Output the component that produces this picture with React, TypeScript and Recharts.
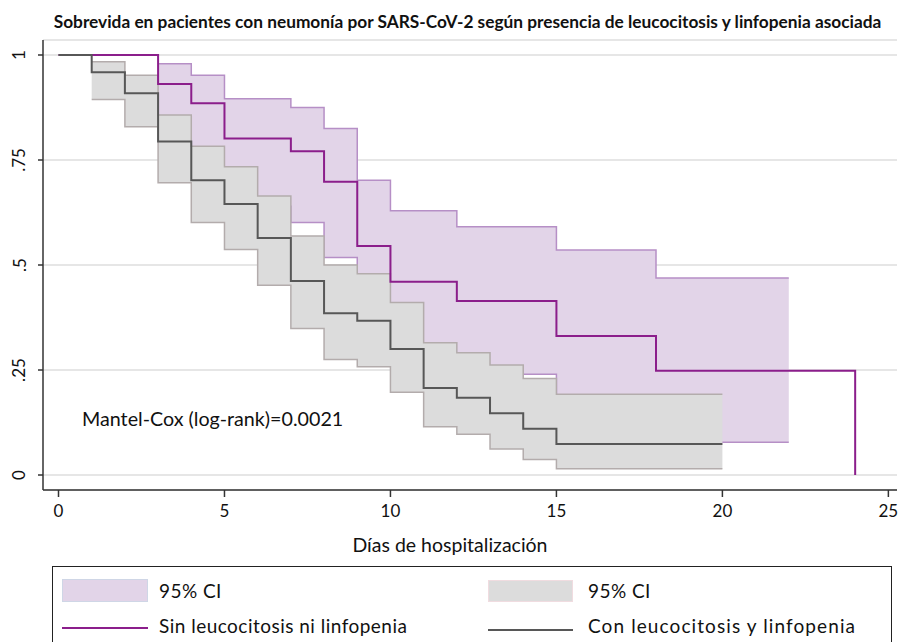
import { ComposedChart, Line, Area, XAxis, YAxis, CartesianGrid } from 'recharts';

// Sin leucocitosis ni linfopenia
const sinTimes = [0, 3, 4, 5, 7, 8, 9, 10, 12, 15, 18, 24];
const sinSurv = [1, 0.931, 0.885, 0.801, 0.771, 0.698, 0.545, 0.46, 0.414, 0.331, 0.248, 0];
const sinCiTimes = [3, 4, 5, 7, 8, 9, 10, 12, 15, 18, 22];
const sinCiLow = [0.78, 0.72, 0.64, 0.601, 0.518, 0.37, 0.29, 0.24, 0.16, 0.078, 0.078];
const sinCiHigh = [0.979, 0.952, 0.896, 0.875, 0.825, 0.702, 0.629, 0.591, 0.536, 0.469, 0.469];

// Con leucocitosis y linfopenia
const conTimes = [0, 1, 2, 3, 4, 5, 6, 7, 8, 9, 10, 11, 12, 13, 14, 15, 20];
const conSurv = [1, 0.959, 0.909, 0.794, 0.702, 0.645, 0.564, 0.462, 0.385, 0.367, 0.3, 0.207, 0.184, 0.147, 0.11, 0.074, 0.074];
const conCiTimes = [1, 2, 3, 4, 5, 6, 7, 8, 9, 10, 11, 12, 13, 14, 15, 20];
const conCiLow = [0.894, 0.829, 0.696, 0.601, 0.537, 0.452, 0.349, 0.275, 0.258, 0.197, 0.115, 0.097, 0.062, 0.037, 0.015, 0.015];
const conCiHigh = [0.984, 0.952, 0.857, 0.783, 0.734, 0.664, 0.569, 0.5, 0.479, 0.411, 0.315, 0.291, 0.262, 0.23, 0.192, 0.192];

const xTicks = [0, 5, 10, 15, 20, 25];
const yTicks = [0, 0.25, 0.5, 0.75, 1];

const PURPLE = '#8b1e8b';
const PURPLE_FILL = '#e2d4e8';
const PURPLE_EDGE = '#b68fc6';
const GRAY = '#575757';
const GRAY_FILL = '#dcdcdc';
const GRAY_EDGE = '#b3acac';
const FONT = 'Lato, sans-serif';

const sinLine = sinTimes.map((t, i) => ({ t, s: sinSurv[i] }));
const sinBand = sinCiTimes.map((t, i) => ({ t, ci: [sinCiLow[i], sinCiHigh[i]] }));
const conLine = conTimes.map((t, i) => ({ t, s: conSurv[i] }));
const conBand = conCiTimes.map((t, i) => ({ t, ci: [conCiLow[i], conCiHigh[i]] }));

const fmtY = (v: number) => (v === 0 || v === 1 ? String(v) : String(v).replace(/^0/, ''));

const YTick = ({ y, payload }: any) => (
  <text
    x={19}
    y={y}
    transform={`rotate(-90 19 ${y})`}
    textAnchor="middle"
    dominantBaseline="central"
    fontSize={17}
    fontFamily={FONT}
    fill="#111"
  >
    {fmtY(payload.value)}
  </text>
);

const legendText = { position: 'absolute' as const, fontSize: 19, lineHeight: '22px', whiteSpace: 'nowrap' as const };

export default function App() {
  return (
    <div
      style={{
        position: 'fixed',
        top: 0,
        left: 0,
        width: 902,
        height: 642,
        overflow: 'hidden',
        background: '#fff',
        fontFamily: FONT,
        color: '#111',
      }}
    >
      <div
        style={{
          position: 'absolute',
          top: 12,
          left: 0,
          width: 935,
          textAlign: 'center',
          fontWeight: 700,
          fontSize: 17.3,
          lineHeight: '20px',
          whiteSpace: 'nowrap',
        }}
      >
        Sobrevida en pacientes con neumonía por SARS-CoV-2 según presencia de leucocitosis y linfopenia asociada
      </div>

      <ComposedChart width={902} height={642} margin={{ top: 40, right: 5, bottom: 82, left: 0 }}>
        <CartesianGrid horizontal vertical={false} stroke="#dedede" strokeWidth={1.5} />
        <XAxis
          type="number"
          dataKey="t"
          domain={[-0.467, 25.26]}
          ticks={xTicks}
          allowDataOverflow
          height={70}
          tickSize={7}
          tickMargin={8}
          stroke="#333"
          strokeWidth={1.5}
          tick={{ fontSize: 17, fontFamily: FONT, fill: '#111' }}
        />
        <YAxis
          type="number"
          domain={[-0.0357, 1.0357]}
          ticks={yTicks}
          allowDataOverflow
          width={43}
          tickSize={5}
          stroke="#333"
          strokeWidth={1.5}
          tick={<YTick />}
        />
        <Area
          data={sinBand}
          dataKey="ci"
          type="stepAfter"
          fill={PURPLE_FILL}
          fillOpacity={1}
          stroke={PURPLE_EDGE}
          strokeWidth={1.5}
          isAnimationActive={false}
        />
        <Area
          data={conBand}
          dataKey="ci"
          type="stepAfter"
          fill={GRAY_FILL}
          fillOpacity={1}
          stroke={GRAY_EDGE}
          strokeWidth={1.5}
          isAnimationActive={false}
        />
        <Line
          data={sinLine}
          dataKey="s"
          type="stepAfter"
          stroke={PURPLE}
          strokeWidth={2}
          dot={false}
          isAnimationActive={false}
        />
        <Line
          data={conLine}
          dataKey="s"
          type="stepAfter"
          stroke={GRAY}
          strokeWidth={2}
          dot={false}
          isAnimationActive={false}
        />
      </ComposedChart>

      <div
        style={{
          position: 'absolute',
          left: 350,
          top: 532.5,
          width: 200,
          textAlign: 'center',
          fontSize: 19.5,
          lineHeight: '24px',
          whiteSpace: 'nowrap',
        }}
      >
        Días de hospitalización
      </div>

      <div style={{ position: 'absolute', left: 82, top: 406.7, fontSize: 19.7, lineHeight: '24px', whiteSpace: 'nowrap' }}>
        Mantel-Cox (log-rank)=0.0021
      </div>

      <div
        style={{
          position: 'absolute',
          left: 52,
          top: 566,
          width: 838,
          height: 110,
          border: '1px solid #222',
        }}
      >
        <div style={{ position: 'absolute', left: 9, top: 12, width: 84, height: 21, background: PURPLE_FILL, border: '1px solid #cfd6e6' }} />
        <div style={{ ...legendText, left: 106, top: 12.7, letterSpacing: 0.45 }}>95% CI</div>
        <div style={{ position: 'absolute', left: 435, top: 13, width: 83, height: 20, background: GRAY_FILL, border: '1px solid #f0dce0' }} />
        <div style={{ ...legendText, left: 535, top: 12.7, letterSpacing: 0.45 }}>95% CI</div>
        <div style={{ position: 'absolute', left: 9, top: 60, width: 86, height: 2, background: PURPLE }} />
        <div style={{ ...legendText, left: 106, top: 47.5, letterSpacing: 0.48 }}>Sin leucocitosis ni linfopenia</div>
        <div style={{ position: 'absolute', left: 435, top: 61.5, width: 85, height: 2, background: GRAY }} />
        <div style={{ ...legendText, left: 535, top: 47.5, letterSpacing: 1.1 }}>Con leucocitosis y linfopenia</div>
      </div>
    </div>
  );
}
